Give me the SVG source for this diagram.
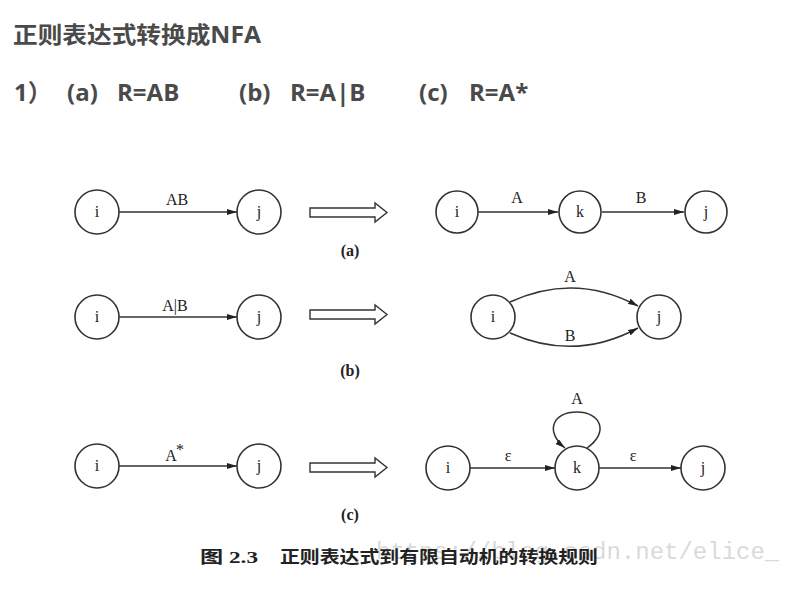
<svg xmlns="http://www.w3.org/2000/svg" width="794" height="593" viewBox="0 0 794 593">
<defs>
<style>
.h{font-family:"Open Sans","Noto Sans","Noto Sans CJK SC",sans-serif;font-weight:bold;fill:#4a4a4a}
.n{fill:#fff;stroke:#333;stroke-width:1.6}
.t{font-family:"Liberation Serif","Noto Sans CJK SC",serif;font-size:16px;fill:#222;text-anchor:middle}
.e{fill:none;stroke:#333;stroke-width:1.5;marker-end:url(#ah)}
.big{fill:#fff;stroke:#333;stroke-width:1.4}
.cap{font-family:"Liberation Serif","Noto Sans CJK SC",serif;font-weight:bold;font-size:17px;fill:#222}
</style>
<marker id="ah" viewBox="0 0 10 6" refX="10" refY="3" markerWidth="10" markerHeight="6" markerUnits="userSpaceOnUse" orient="auto">
<path d="M0,0L10,3L0,6z" fill="#222"/>
</marker>
</defs>
<rect width="794" height="593" fill="#fff"/>
<text class="h" x="13" y="43" font-size="23" textLength="248" lengthAdjust="spacingAndGlyphs">正则表达式转换成NFA</text>
<g class="h" font-size="24">
<text x="14" y="101">1）</text>
<text x="67" y="101">(a)</text>
<text x="117" y="101">R=AB</text>
<text x="239" y="101">(b)</text>
<text x="290" y="101">R=A|B</text>
<text x="419" y="101">(c)</text>
<text x="469" y="101">R=A*</text>
</g>

<g id="connectors">
<line class="e" x1="119" y1="212" x2="237" y2="212"/>
<line class="e" x1="478" y1="212" x2="558" y2="212"/>
<line class="e" x1="602" y1="212" x2="684" y2="212"/>
<line class="e" x1="119" y1="317" x2="237" y2="317"/>
<path class="e" d="M510,302 Q575,272 638,306"/>
<path class="e" d="M510,333 Q575,362 638,328"/>
<line class="e" x1="119" y1="466" x2="237" y2="466"/>
<line class="e" x1="470" y1="468" x2="555" y2="468"/>
<line class="e" x1="599" y1="468" x2="681" y2="468"/>
<path class="e" d="M587,448 C610,432 600,412 577,412 C552,412 545,432 565,448"/>
</g>
<g id="labels">
<text class="t" x="177" y="205">AB</text>
<text class="t" x="517" y="203">A</text>
<text class="t" x="641" y="203">B</text>
<text class="t" x="175" y="311">A|B</text>
<text class="t" x="570" y="282">A</text>
<text class="t" x="570" y="341">B</text>
<text class="t" x="171" y="461">A</text>
<text class="t" x="180" y="455" font-size="12">*</text>
<text class="t" x="577" y="404">A</text>
<text class="t" x="508" y="461">ε</text>
<text class="t" x="633" y="461">ε</text>
<text class="t" x="350" y="256" font-weight="bold" font-size="13">(a)</text>
<text class="t" x="350" y="376" font-weight="bold" font-size="13">(b)</text>
<text class="t" x="350" y="520" font-weight="bold" font-size="13">(c)</text>
</g>

<g id="a_i"><circle class="n" cx="97" cy="212" r="22"/><text class="t" x="97" y="217">i</text></g>
<g id="a_j"><circle class="n" cx="259" cy="212" r="22"/><text class="t" x="259" y="217">j</text></g>
<g id="a_arrow"><path class="big" d="M310,208H375V203L387,212.5L375,222V217H310z"/></g>
<g id="a2_i"><circle class="n" cx="457" cy="212" r="21"/><text class="t" x="457" y="217">i</text></g>
<g id="a2_k"><circle class="n" cx="580" cy="212" r="21"/><text class="t" x="580" y="217">k</text></g>
<g id="a2_j"><circle class="n" cx="706" cy="212" r="21"/><text class="t" x="706" y="217">j</text></g>

<g id="b_i"><circle class="n" cx="97" cy="317" r="22"/><text class="t" x="97" y="322">i</text></g>
<g id="b_j"><circle class="n" cx="259" cy="317" r="22"/><text class="t" x="259" y="322">j</text></g>
<g id="b_arrow"><path class="big" d="M310,310H375V305L387,314.5L375,324V319H310z"/></g>
<g id="b2_i"><circle class="n" cx="493" cy="317" r="22"/><text class="t" x="493" y="322">i</text></g>
<g id="b2_j"><circle class="n" cx="659" cy="317" r="22"/><text class="t" x="659" y="322">j</text></g>

<g id="c_i"><circle class="n" cx="97" cy="466" r="22"/><text class="t" x="97" y="471">i</text></g>
<g id="c_j"><circle class="n" cx="259" cy="466" r="22"/><text class="t" x="259" y="471">j</text></g>
<g id="c_arrow"><path class="big" d="M310,463H375V458L387,467.5L375,477V472H310z"/></g>
<g id="c2_i"><circle class="n" cx="448" cy="468" r="22"/><text class="t" x="448" y="473">i</text></g>
<g id="c2_k"><circle class="n" cx="577" cy="468" r="22"/><text class="t" x="577" y="473">k</text></g>
<g id="c2_j"><circle class="n" cx="703" cy="468" r="22"/><text class="t" x="703" y="473">j</text></g>

<text x="376" y="559" font-family="Liberation Mono,monospace" font-size="24" fill="#d0d0d0" fill-opacity="0.8">https://blog.csdn.net/elice_</text>
<text class="cap" x="200" y="563" textLength="58" lengthAdjust="spacingAndGlyphs">图 2.3</text>
<text class="cap" x="280" y="563" textLength="318" lengthAdjust="spacingAndGlyphs">正则表达式到有限自动机的转换规则</text>
</svg>
